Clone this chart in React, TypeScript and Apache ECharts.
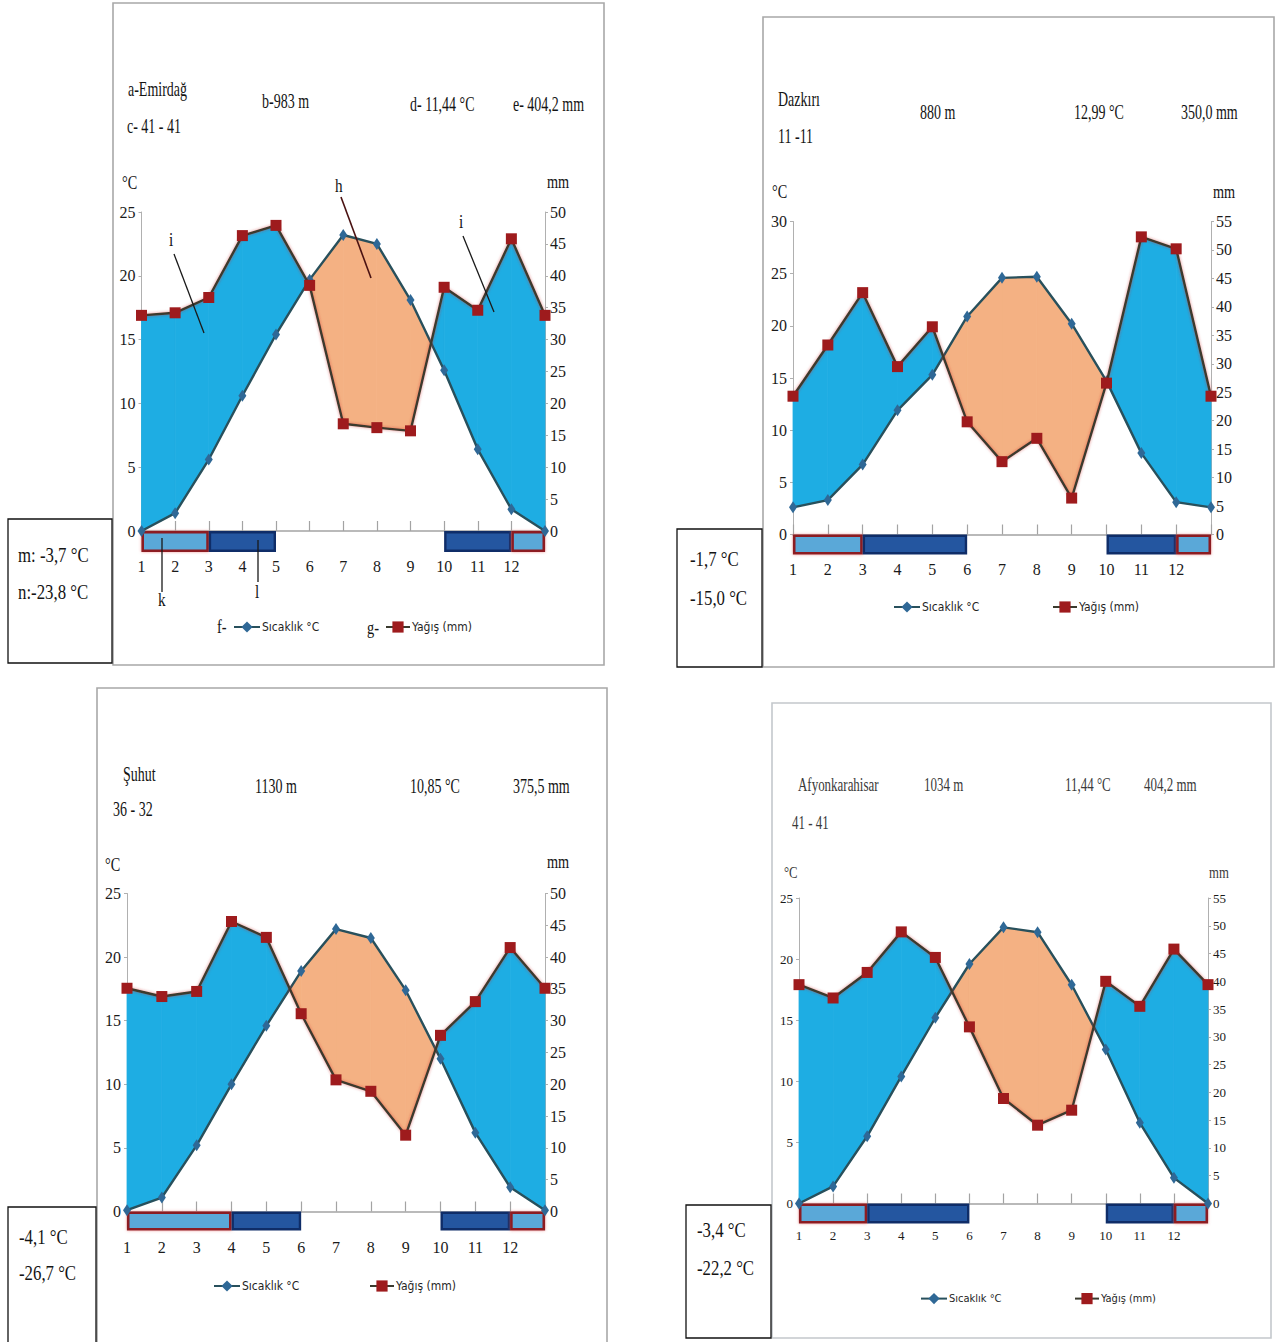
import React, { useEffect, useRef } from 'react';
import * as echarts from 'echarts';

// ---------- DATA ----------
const months = [1, 2, 3, 4, 5, 6, 7, 8, 9, 10, 11, 12, 13];

const emirdagTemp = [0.0, 1.4, 5.6, 10.6, 15.4, 19.7, 23.2, 22.5, 18.1, 12.6, 6.4, 1.7, 0.0];
const emirdagRain = [33.8, 34.2, 36.6, 46.3, 47.9, 38.5, 16.8, 16.2, 15.7, 38.2, 34.6, 45.8, 33.8];
const emirdagFrost = [[1, 3, 1], [3, 5, 0], [10, 12, 0], [12, 13, 1]];

const dazkiriTemp = [2.6, 3.3, 6.7, 11.9, 15.3, 20.9, 24.6, 24.7, 20.2, 14.7, 7.8, 3.1, 2.6];
const dazkiriRain = [24.3, 33.3, 42.5, 29.5, 36.5, 19.8, 12.8, 16.9, 6.4, 26.6, 52.3, 50.2, 24.3];
const dazkiriFrost = [[1, 3, 1], [3, 6, 0], [10, 12, 0], [12, 13, 1]];

const suhutTemp = [0.1, 1.1, 5.2, 10.0, 14.6, 18.9, 22.2, 21.5, 17.4, 12.0, 6.2, 1.9, 0.1];
const suhutRain = [35.1, 33.8, 34.6, 45.6, 43.1, 31.1, 20.7, 18.9, 12.0, 27.7, 33.0, 41.5, 35.1];
const suhutFrost = [[1, 4, 1], [4, 6, 0], [10, 12, 0], [12, 13, 1]];

const afyonTemp = [0.0, 1.4, 5.5, 10.4, 15.2, 19.6, 22.6, 22.2, 17.9, 12.6, 6.6, 2.1, 0.0];
const afyonRain = [39.4, 37.0, 41.6, 48.9, 44.3, 31.8, 18.9, 14.1, 16.8, 40.0, 35.5, 45.8, 39.4];
const afyonFrost = [[1, 3, 1], [3, 6, 0], [10, 12, 0], [12, 13, 1]];

const tempName = 'Sıcaklık °C';
const rainName = 'Yağış (mm)';

const headers1 = ['a-Emirdağ', 'c- 41 - 41', 'b-983 m', 'd- 11,44 °C', 'e- 404,2 mm'];
const headers2 = ['Dazkırı', '11 -11', '880 m', '12,99 °C', '350,0 mm'];
const headers3 = ['Şuhut', '36 - 32', '1130 m', '10,85 °C', '375,5 mm'];
const headers4 = ['Afyonkarahisar', '41 - 41', '1034 m', '11,44 °C', '404,2 mm'];

const minTemps1 = ['m: -3,7 °C', 'n:-23,8 °C'];
const minTemps2 = ['-1,7 °C', '-15,0 °C'];
const minTemps3 = ['-4,1 °C', '-26,7 °C'];
const minTemps4 = ['-3,4 °C', '-22,2 °C'];

// ---------- LAYOUT ----------
const SERIF = '"Liberation Serif", "Times New Roman", serif';
const SANS = '"Liberation Sans Narrow", "DejaVu Sans Condensed", "Liberation Sans", sans-serif';
const BLUE = '#1eade3';
const ORANGE = '#f4b183';

const panels = [
  {
    temp: emirdagTemp, rain: emirdagRain, frost: emirdagFrost, tMax: 25, pMax: 50,
    grid: { left: 141.5, top: 212, width: 403.5, height: 319 }, barH: 21, labelMargin: 27, fs: 16,
    headers: headers1, hx: [[128, 90], [127, 127], [262, 102], [410, 105], [513, 105]], hs: 20, hsx: 0.7,
    mins: minTemps1, mx: [[18, 555], [18, 592]],
    units: [[122, 183], [547, 182]],
    legend: [[233, 628], [385, 628]],
  },
  {
    temp: dazkiriTemp, rain: dazkiriRain, frost: dazkiriFrost, tMax: 30, pMax: 55,
    grid: { left: 793, top: 221.5, width: 418, height: 313 }, barH: 20, labelMargin: 27, fs: 16,
    headers: headers2, hx: [[778, 100], [778, 137], [920, 113], [1074, 113], [1181, 113]], hs: 20, hsx: 0.7,
    mins: minTemps2, mx: [[690, 559], [690, 598]],
    units: [[772, 192], [1213, 192]],
    legend: [[893, 608], [1052, 608]],
  },
  {
    temp: suhutTemp, rain: suhutRain, frost: suhutFrost, tMax: 25, pMax: 50,
    grid: { left: 127, top: 893.5, width: 418, height: 318 }, barH: 19, labelMargin: 28, fs: 16,
    headers: headers3, hx: [[123, 775], [113, 810], [255, 787], [410, 787], [513, 787]], hs: 20, hsx: 0.7,
    mins: minTemps3, mx: [[19, 1237], [19, 1273]],
    units: [[105, 865], [547, 862]],
    legend: [[213, 1287], [369, 1287]],
  },
  {
    temp: afyonTemp, rain: afyonRain, frost: afyonFrost, tMax: 25, pMax: 55,
    grid: { left: 799, top: 898, width: 409, height: 305.5 }, barH: 20, labelMargin: 25, fs: 13,
    headers: headers4, hx: [[798, 785], [792, 823], [924, 785], [1065, 785], [1144, 785]], hs: 18, hsx: 0.72,
    mins: minTemps4, mx: [[697, 1230], [697, 1268]],
    units: [[784, 872], [1209, 872]],
    legend: [[920, 1300], [1074, 1300]],
  },
];

const frames = [
  [113, 3, 491, 662],
  [763, 17, 511, 650],
  [97, 688, 510, 670],
  [772, 703, 499, 635],
];
const boxes = [
  [8, 519, 104, 144],
  [677, 529, 85, 138],
  [8, 1207, 88, 150],
  [686, 1205, 85, 133],
];

function txt(x: number, y: number, text: string, size: number, sx: number, fill = '#141414', family = SERIF) {
  return {
    type: 'text', x, y, scaleX: sx, z: 30, silent: true,
    style: { text, fontSize: size, fontFamily: family, fill, align: 'left', verticalAlign: 'middle' },
  };
}
function ln(x1: number, y1: number, x2: number, y2: number, stroke = '#1a1a1a', w = 1.3) {
  return { type: 'line', z: 30, silent: true, shape: { x1, y1, x2, y2 }, style: { stroke, lineWidth: w } };
}

function buildOption() {
  const grid: any[] = [];
  const xAxis: any[] = [];
  const yAxis: any[] = [];
  const series: any[] = [];
  const legend: any[] = [];
  const graphic: any[] = [];

  frames.forEach(([x, y, w, h], i) => {
    graphic.push({ type: 'rect', z: 0, silent: true, shape: { x, y, width: w, height: h }, style: { fill: 'none', stroke: i === 3 ? '#c4c8cc' : '#a8a8a8', lineWidth: 1.6 } });
  });
  boxes.forEach(([x, y, w, h]) => {
    graphic.push({ type: 'rect', z: 0, silent: true, shape: { x, y, width: w, height: h }, style: { fill: '#fff', stroke: '#111', lineWidth: 1.3 } });
  });

  panels.forEach((p, i) => {
    grid.push({ ...p.grid });
    xAxis.push({
      gridIndex: i, type: 'value', min: 1, max: 13, interval: 1,
      axisLine: { show: true, onZero: false, lineStyle: { color: '#a3a3a3', width: 1.5 } },
      axisTick: { show: true, inside: true, length: 10, lineStyle: { color: '#a3a3a3', width: 1.2 } },
      axisLabel: {
        margin: p.labelMargin, fontFamily: SERIF, fontSize: p.fs, color: '#1a1a1a',
        formatter: (v: number) => (v <= 12 ? String(v) : ''),
      },
      splitLine: { show: false },
    });
    yAxis.push({
      gridIndex: i, type: 'value', min: 0, max: p.tMax, interval: 5, position: 'left',
      axisLine: { show: true, lineStyle: { color: '#b0b0b0', width: 1 } },
      axisTick: { show: true, length: 3, lineStyle: { color: '#b0b0b0' } },
      axisLabel: { margin: 6, fontFamily: SERIF, fontSize: p.fs, color: '#1a1a1a' },
      splitLine: { show: false },
    });
    yAxis.push({
      gridIndex: i, type: 'value', min: 0, max: p.pMax, interval: 5, position: 'right',
      axisLine: { show: true, lineStyle: { color: '#b0b0b0', width: 1 } },
      axisTick: { show: true, length: 3, lineStyle: { color: '#b0b0b0' } },
      axisLabel: { margin: 5, fontFamily: SERIF, fontSize: p.fs, color: '#1a1a1a' },
      splitLine: { show: false },
    });

    const ratio = p.tMax / p.pMax;
    const T = p.temp;
    const P = p.rain.map((v) => v * ratio);

    // humid / arid fills between curves
    series.push({
      type: 'custom', xAxisIndex: i, yAxisIndex: 2 * i, z: 1, silent: true, clip: false,
      data: [[1, 0]],
      renderItem: (_params: any, api: any) => {
        const children: any[] = [];
        const poly = (pts: number[][], fill: string) => {
          children.push({
            type: 'polygon',
            shape: { points: pts.map((q) => api.coord(q)) },
            style: { fill, stroke: fill, lineWidth: 0.8 },
          });
        };
        for (let k = 0; k < months.length - 1; k++) {
          const x0 = months[k], x1 = months[k + 1];
          const t0 = T[k], t1 = T[k + 1], p0 = P[k], p1 = P[k + 1];
          const d0 = p0 - t0, d1 = p1 - t1;
          if (d0 * d1 >= 0) {
            poly([[x0, t0], [x1, t1], [x1, p1], [x0, p0]], d0 + d1 >= 0 ? BLUE : ORANGE);
          } else {
            const f = d0 / (d0 - d1);
            const xc = x0 + f * (x1 - x0);
            const yc = t0 + f * (t1 - t0);
            poly([[x0, t0], [xc, yc], [x0, p0]], d0 > 0 ? BLUE : ORANGE);
            poly([[xc, yc], [x1, t1], [x1, p1]], d1 > 0 ? BLUE : ORANGE);
          }
        }
        return { type: 'group', children };
      },
    });

    // frost bars
    series.push({
      type: 'custom', xAxisIndex: i, yAxisIndex: 2 * i, z: 6, silent: true, clip: false,
      data: p.frost,
      renderItem: (_params: any, api: any) => {
        const s = api.coord([api.value(0), 0]);
        const e = api.coord([api.value(1), 0]);
        const light = api.value(2) === 1;
        return {
          type: 'rect',
          shape: { x: s[0] + 1.2, y: s[1] + 1.2, width: e[0] - s[0] - 2.4, height: p.barH - 2.4 },
          style: light
            ? { fill: '#5aa8d8', stroke: '#8c1b20', lineWidth: 2.6, shadowColor: 'rgba(230,90,90,0.6)', shadowBlur: 3 }
            : { fill: '#2456a0', stroke: '#0f2d68', lineWidth: 2.4 },
        };
      },
    });

    series.push({
      name: tempName, type: 'line', xAxisIndex: i, yAxisIndex: 2 * i, z: 10,
      data: months.map((m, k) => [m, T[k]]),
      symbol: 'diamond', symbolSize: [8, 12],
      lineStyle: { color: '#28505c', width: 2.4 },
      itemStyle: { color: '#2f6896' },
    });
    series.push({
      name: rainName, type: 'line', xAxisIndex: i, yAxisIndex: 2 * i + 1, z: 11,
      data: months.map((m, k) => [m, p.rain[k]]),
      symbol: 'rect', symbolSize: 11,
      lineStyle: { color: '#3a3a2e', width: 2.4, shadowColor: 'rgba(200,40,40,0.55)', shadowBlur: 3 },
      itemStyle: { color: '#9e1b1d' },
    });

    const lfs = i === 3 ? 11 : 12;
    legend.push({
      left: p.legend[0][0], top: p.legend[0][1] - 7, data: [tempName], padding: 0, itemWidth: 26, itemHeight: 14,
      selectedMode: false, textStyle: { fontFamily: SANS, fontSize: lfs, color: '#1f1f1f', padding: [0, 0, 0, -3] },
    });
    legend.push({
      left: p.legend[1][0], top: p.legend[1][1] - 7, data: [rainName], padding: 0, itemWidth: 24, itemHeight: 14,
      selectedMode: false, textStyle: { fontFamily: SANS, fontSize: lfs, color: '#1f1f1f', padding: [0, 0, 0, -3] },
    });

    const hfill = i === 3 ? '#3a3a3a' : '#141414';
    p.headers.forEach((h, k) => graphic.push(txt(p.hx[k][0], p.hx[k][1], h, p.hs, p.hsx, hfill)));
    p.mins.forEach((m, k) => graphic.push(txt(p.mx[k][0], p.mx[k][1], m, 21, 0.8)));
    graphic.push(txt(p.units[0][0], p.units[0][1], '°C', i === 3 ? 17 : 19, 0.75, hfill));
    graphic.push(txt(p.units[1][0], p.units[1][1], 'mm', i === 3 ? 17 : 19, 0.75, hfill));
  });

  // annotation letters of the first panel
  graphic.push(txt(169, 240, 'i', 19, 0.8));
  graphic.push(ln(174, 254, 204, 333));
  graphic.push(txt(335, 186, 'h', 19, 0.8));
  graphic.push(ln(341, 197, 371, 278, '#4a1212', 1.6));
  graphic.push(txt(459, 222, 'i', 19, 0.8));
  graphic.push(ln(463, 236, 494, 312));
  graphic.push(ln(162, 538, 162, 592));
  graphic.push(txt(158, 600, 'k', 19, 0.8));
  graphic.push(ln(258, 540, 258, 582));
  graphic.push(txt(255, 592, 'l', 19, 0.8));
  graphic.push(txt(217, 627, 'f-', 18, 0.8));
  graphic.push(txt(367, 628, 'g-', 18, 0.8));

  return { animation: false, backgroundColor: '#ffffff', grid, xAxis, yAxis, series, legend, graphic };
}

export default function App() {
  const ref = useRef<HTMLDivElement>(null);
  useEffect(() => {
    const chart = echarts.init(ref.current as HTMLDivElement, null, { renderer: 'svg' });
    chart.setOption(buildOption() as any);
    return () => chart.dispose();
  }, []);
  return (
    <div
      ref={ref}
      style={{ position: 'absolute', left: 0, top: 0, width: 1277, height: 1342, background: '#fff' }}
    />
  );
}
